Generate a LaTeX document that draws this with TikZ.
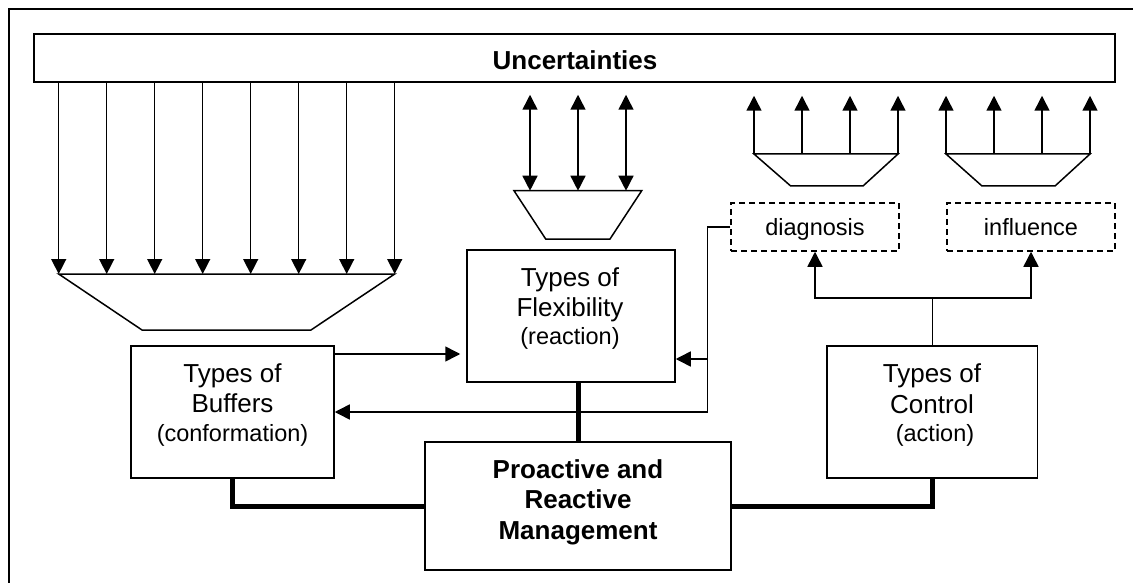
\documentclass[tikz,border=0pt]{standalone}
\usepackage{fontspec}
\setmainfont{Liberation Sans}
\usetikzlibrary{arrows.meta}
\begin{document}
\begin{tikzpicture}[x=1pt,y=-1pt,
  box/.style={draw,line width=1.5pt,inner sep=0pt},
  dbox/.style={box,dash pattern=on 6pt off 4pt},
  ln/.style={line width=1.5pt},
  arr/.style={line width=1.5pt,-{Triangle[length=15pt,width=15pt]}},
  darr/.style={line width=1.5pt,{Triangle[length=15pt,width=15pt]}-{Triangle[length=15pt,width=15pt]}},
  heavy/.style={line width=5pt},
  big/.style={font=\fontsize{26}{30}\selectfont,inner sep=0pt,anchor=base},
  bigb/.style={font=\bfseries\fontsize{26}{30}\selectfont,inner sep=0pt,anchor=base},
  small/.style={font=\fontsize{23.5}{28}\selectfont,inner sep=0pt,anchor=base},
]
\useasboundingbox (0,0) rectangle (1133,583);
% outer frame (top and left edges)
\draw[ln] (1140,9) -- (9,9) -- (9,590);

% boxes
\node[box,minimum width=1081pt,minimum height=48pt] (unc) at (574.5,58) {};
\node[bigb] (unct) at (575,70) {Uncertainties};

\node[box,minimum width=203pt,minimum height=132pt] (buf) at (232.5,412) {};
\node[big] (buf1) at (232.5,382) {Types of};
\node[big] (buf2) at (232.5,412) {Buffers};
\node[small] (buf3) at (232.5,441) {(conformation)};

\node[box,minimum width=208pt,minimum height=132pt] (flex) at (571,316) {};
\node[big] (flex1) at (570,286) {Types of};
\node[big] (flex2) at (570,316) {Flexibility};
\node[small] (flex3) at (570,344) {(reaction)};

\node[box,minimum width=306pt,minimum height=128pt] (pro) at (578,506) {};
\node[bigb] (pro1) at (578,478) {Proactive and};
\node[bigb] (pro2) at (578,508) {Reactive};
\node[bigb] (pro3) at (578,539) {Management};

\node[box,minimum width=210.5pt,minimum height=132pt] (ctrl) at (932.25,412) {};
\node[big] (ctrl1) at (932,382) {Types of};
\node[big] (ctrl2) at (932,413) {Control};
\node[small] (ctrl3) at (935,441) {(action)};

\node[dbox,minimum width=168pt,minimum height=48pt] (diag) at (815,227) {};
\node[small] (diagt) at (815,235) {diagnosis};
\node[dbox,minimum width=168pt,minimum height=48pt] (infl) at (1031,227) {};
\node[small] (inflt) at (1031,235) {influence};

% trapezoids
\draw[ln] (58.7,274) -- (394.7,274) -- (311,330) -- (142,330) -- cycle;
\draw[ln] (514,190.7) -- (641.7,190.7) -- (610,239) -- (545.7,239) -- cycle;
\draw[ln] (754,154) -- (898,154) -- (863,186) -- (790.7,186) -- cycle;
\draw[ln] (946,154) -- (1090,154) -- (1055,186) -- (982,186) -- cycle;

% arrows from uncertainties down
\foreach \x in {58.7,106.7,154.7,202.7,250.7,298.7,346.7,394.7}
  \draw[arr] (unc.south -| \x,0) -- (\x,274);
% double arrows
\foreach \x in {530,578,626}
  \draw[darr,shorten <=12pt] (unc.south -| \x,0) -- (\x,190.7);
% up arrows
\foreach \x in {754,802,850,898,946,994,1042,1090}
  \draw[arr,shorten >=13pt] (\x,154) -- (unc.south -| \x,0);

% buffers -> flexibility
\draw[arr,shorten >=6pt] (buf.east |- 0,354) -- (flex.west |- 0,354);
% diagnosis feedback
\coordinate (fj) at (708,359);
\draw[arr] (diag.west) -- ++(-23,0) |- (buf.east);
\draw[arr] (fj) -- (flex.east |- fj);

% control -> diagnosis / influence
\coordinate (cj) at (ctrl.north |- 0,298);
\draw[ln] (ctrl.north) -- (cj);
\draw[arr] (cj) -| (diag.south);
\draw[arr] (cj) -| (infl.south);

% heavy links
\draw[heavy] (buf.south) |- (pro.west);
\draw[heavy] (ctrl.south) |- (pro.east);
\draw[heavy] (pro.north) -- (pro.north |- flex.south);
\end{tikzpicture}
\end{document}
